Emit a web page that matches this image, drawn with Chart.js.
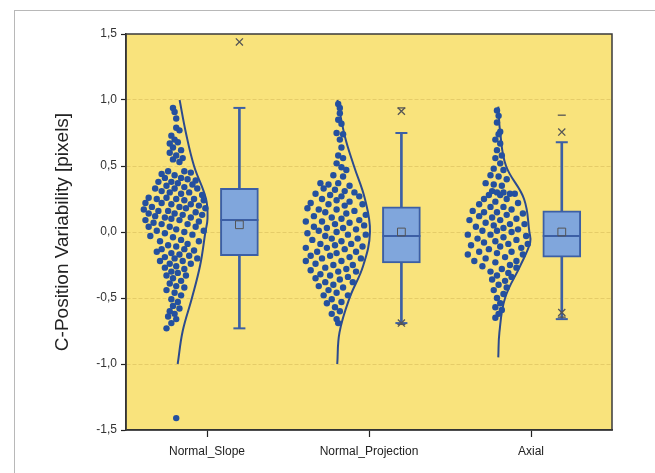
<!DOCTYPE html>
<html lang="en">
<head>
    <meta charset="UTF-8">
    <title>C-Position Variability</title>
    <script src="https://cdn.jsdelivr.net/npm/chart.js"></script>
    <style>
        body {
            margin: 0;
            background: #fff;
        }
        #wrap {
            position: relative;
            width: 655px;
            height: 473px;
        }
        #frame {
            position: absolute;
            left: 14px;
            top: 10px;
            width: 700px;
            height: 500px;
            border: 1px solid #b8b8b8;
            pointer-events: none;
        }
    </style>
</head>
<body>
<div id="wrap">
    <canvas id="chart" width="655" height="473"></canvas>
    <div id="frame"></div>
</div>

<script>
    const categories = ['Normal_Slope', 'Normal_Projection', 'Axial'];
    const catPos = [0.5, 1.5, 2.5];
    const boxPos = [0.70, 1.70, 2.69];

    const whiskerHi = [0.94, 0.75, 0.68];
    const q3 = [0.33, 0.19, 0.16];
    const median = [0.09, -0.03, -0.03];
    const q1 = [-0.18, -0.235, -0.19];
    const whiskerLo = [-0.73, -0.69, -0.66];
    const means = [0.055, 0.0, 0.0];
    const maxMarks = [1.44, 0.915, 0.757];
    const minMarks = [null, -0.69, -0.61];
    const pctHi = [null, 0.94, 0.885];
    const pctLo = [null, -0.70, -0.645];

    // jittered raw points [x, y]
    const slopePts = [
        [0.29,0.94],[0.30,0.91],[0.31,0.86],[0.31,0.79],[0.33,0.77],[0.28,0.73],[0.30,0.70],[0.27,0.67],[0.32,0.68],[0.29,0.64],
        [0.34,0.62],[0.27,0.60],[0.31,0.58],[0.35,0.56],[0.29,0.55],[0.33,0.53],
        [0.22,0.44],[0.26,0.46],[0.36,0.46],[0.40,0.45],[0.30,0.43],[0.24,0.41],[0.34,0.41],[0.38,0.40],[0.43,0.39],[0.20,0.38],
        [0.28,0.38],[0.32,0.37],[0.41,0.36],[0.25,0.35],[0.36,0.34],[0.18,0.33],[0.30,0.33],[0.44,0.33],[0.22,0.31],[0.27,0.30],
        [0.39,0.30],[0.34,0.29],[0.47,0.28],
        [0.14,0.26],[0.19,0.25],[0.25,0.26],[0.31,0.25],[0.36,0.24],[0.42,0.25],[0.48,0.24],[0.12,0.22],[0.22,0.22],[0.28,0.21],
        [0.40,0.21],[0.45,0.20],[0.16,0.19],[0.33,0.19],[0.37,0.18],[0.49,0.18],[0.11,0.17],[0.20,0.16],[0.26,0.16],[0.43,0.15],
        [0.14,0.14],[0.30,0.14],[0.35,0.13],[0.47,0.13],[0.18,0.12],[0.24,0.11],[0.40,0.11],[0.28,0.10],[0.12,0.09],[0.33,0.09],
        [0.45,0.08],
        [0.17,0.07],[0.22,0.06],[0.38,0.06],[0.14,0.04],[0.27,0.04],[0.43,0.04],[0.31,0.02],[0.19,0.01],[0.36,0.00],[0.48,0.01],
        [0.24,-0.01],[0.41,-0.02],[0.15,-0.03],[0.29,-0.04],[0.34,-0.06],[0.21,-0.07],[0.45,-0.07],[0.38,-0.09],
        [0.26,-0.10],[0.31,-0.11],[0.22,-0.13],[0.36,-0.13],[0.42,-0.14],[0.19,-0.15],[0.28,-0.16],[0.33,-0.17],[0.39,-0.18],
        [0.24,-0.19],[0.30,-0.20],[0.44,-0.20],[0.21,-0.22],[0.35,-0.22],[0.27,-0.24],[0.40,-0.24],[0.31,-0.26],[0.24,-0.27],
        [0.36,-0.28],
        [0.28,-0.30],[0.32,-0.31],[0.25,-0.33],[0.37,-0.33],[0.29,-0.35],[0.34,-0.37],[0.27,-0.39],[0.31,-0.41],[0.36,-0.42],
        [0.25,-0.44],[0.30,-0.46],[0.34,-0.48],
        [0.28,-0.51],[0.32,-0.53],[0.29,-0.56],[0.33,-0.58],[0.27,-0.60],[0.30,-0.62],[0.26,-0.64],[0.31,-0.66],[0.28,-0.69],
        [0.25,-0.73],
        [0.31,-1.41]
    ];

    const projectionPts = [
        [1.31,0.97],[1.32,0.94],[1.32,0.90],[1.31,0.85],[1.33,0.82],[1.30,0.75],[1.34,0.74],[1.32,0.70],[1.33,0.64],[1.31,0.58],
        [1.34,0.56],[1.30,0.52],[1.33,0.49],[1.36,0.47],[1.28,0.43],[1.34,0.42],
        [1.20,0.37],[1.25,0.36],[1.31,0.37],[1.38,0.35],[1.22,0.33],[1.29,0.32],[1.35,0.31],[1.41,0.30],[1.17,0.29],[1.26,0.28],
        [1.33,0.27],[1.44,0.27],[1.21,0.25],[1.30,0.24],[1.38,0.23],[1.14,0.22],[1.25,0.21],[1.35,0.20],[1.46,0.21],
        [1.12,0.18],[1.19,0.17],[1.30,0.17],[1.41,0.16],[1.23,0.15],[1.36,0.14],[1.48,0.13],[1.16,0.12],[1.27,0.11],[1.33,0.10],
        [1.44,0.09],[1.11,0.08],[1.21,0.08],[1.38,0.07],[1.29,0.06],[1.47,0.05],[1.16,0.04],[1.24,0.03],[1.34,0.03],[1.42,0.02],
        [1.19,0.01],[1.30,0.00],
        [1.12,-0.01],[1.37,-0.02],[1.48,-0.02],[1.23,-0.03],[1.27,-0.05],[1.43,-0.05],[1.15,-0.06],[1.33,-0.07],[1.20,-0.09],
        [1.39,-0.09],[1.29,-0.10],[1.46,-0.11],[1.11,-0.12],[1.24,-0.12],[1.35,-0.13],[1.18,-0.15],[1.42,-0.15],[1.30,-0.16],
        [1.14,-0.18],[1.26,-0.18],[1.38,-0.19],[1.21,-0.20],[1.45,-0.20],
        [1.11,-0.22],[1.33,-0.22],[1.17,-0.24],[1.28,-0.25],[1.40,-0.25],[1.23,-0.27],[1.36,-0.28],[1.14,-0.29],[1.31,-0.30],
        [1.42,-0.30],[1.20,-0.32],[1.26,-0.33],[1.37,-0.34],[1.17,-0.35],[1.32,-0.36],[1.23,-0.38],[1.40,-0.38],[1.28,-0.40],
        [1.19,-0.41],[1.34,-0.42],
        [1.25,-0.44],[1.30,-0.46],[1.22,-0.48],[1.37,-0.48],[1.27,-0.51],[1.33,-0.53],[1.24,-0.54],[1.29,-0.57],[1.32,-0.60],
        [1.27,-0.62],[1.30,-0.66],[1.31,-0.69]
    ];

    const axialPts = [
        [2.29,0.92],[2.30,0.88],[2.29,0.83],[2.31,0.76],[2.30,0.74],[2.28,0.70],[2.31,0.67],[2.29,0.62],[2.32,0.58],[2.28,0.56],
        [2.31,0.52],[2.27,0.48],[2.33,0.47],[2.25,0.43],[2.30,0.42],[2.35,0.40],
        [2.22,0.37],[2.27,0.36],[2.32,0.35],[2.26,0.31],[2.29,0.30],[2.33,0.30],[2.37,0.29],[2.40,0.29],[2.24,0.28],[2.31,0.28],
        [2.21,0.25],[2.35,0.25],[2.28,0.23],[2.42,0.22],[2.18,0.21],
        [2.25,0.19],[2.33,0.19],[2.38,0.17],[2.14,0.16],[2.21,0.15],[2.29,0.15],[2.45,0.14],[2.35,0.13],[2.18,0.12],[2.26,0.11],
        [2.41,0.10],[2.12,0.09],[2.31,0.09],[2.22,0.07],[2.37,0.06],[2.46,0.06],[2.27,0.05],[2.16,0.04],[2.33,0.03],[2.42,0.02],
        [2.20,0.01],[2.29,0.01],[2.38,0.00],
        [2.11,-0.02],[2.25,-0.02],[2.47,-0.03],[2.33,-0.04],[2.17,-0.05],[2.41,-0.06],[2.28,-0.07],[2.21,-0.08],[2.36,-0.09],
        [2.48,-0.09],[2.13,-0.10],[2.31,-0.11],[2.44,-0.12],[2.24,-0.13],[2.18,-0.15],[2.38,-0.15],[2.29,-0.16],[2.11,-0.17],
        [2.45,-0.17],[2.34,-0.19],[2.22,-0.20],
        [2.15,-0.22],[2.41,-0.22],[2.28,-0.23],[2.37,-0.25],[2.20,-0.26],[2.32,-0.28],[2.41,-0.27],[2.25,-0.30],[2.36,-0.31],
        [2.29,-0.33],[2.38,-0.34],[2.26,-0.36],[2.34,-0.37],[2.30,-0.40],
        [2.35,-0.42],[2.27,-0.44],[2.33,-0.47],[2.29,-0.50],[2.31,-0.54],[2.28,-0.57],[2.32,-0.59],[2.30,-0.62],[2.28,-0.65]
    ];

    // distribution curves [x, y]
    const slopeCurve = [[0.331,1.0],[0.37,0.75],[0.42,0.5],[0.494,0.25],[0.503,0.1],[0.49,0.0],[0.458,-0.25],[0.407,-0.5],[0.35,-0.75],[0.319,-1.0]];
    const projectionCurve = [[1.305,1.0],[1.352,0.72],[1.407,0.5],[1.475,0.25],[1.506,0.0],[1.463,-0.26],[1.38,-0.5],[1.318,-0.76],[1.304,-1.0]];
    const axialCurve = [[2.298,0.95],[2.31,0.75],[2.346,0.5],[2.457,0.25],[2.49,0.0],[2.495,-0.08],[2.432,-0.26],[2.34,-0.5],[2.305,-0.76],[2.298,-0.95]];

    const dotColor = '#24509f';
    const lineColor = '#2c4a8e';
    const boxEdge = '#3c5fa5';
    const markColor = '#555555';

    const toXY = arr => arr.map(p => ({ x: p[0], y: p[1] }));
    const atBoxes = vals => boxPos.map((x, i) => ({ x: x, y: vals[i] })).filter(p => p.y !== null);

    const plotBackground = {
        id: 'plotBackground',
        beforeDraw(chart) {
            const { ctx, chartArea } = chart;
            ctx.save();
            ctx.fillStyle = '#f9e37c';
            ctx.fillRect(chartArea.left, chartArea.top, chartArea.right - chartArea.left, chartArea.bottom - chartArea.top);
            ctx.restore();
        },
        afterDraw(chart) {
            const { ctx, chartArea } = chart;
            ctx.save();
            ctx.strokeStyle = '#3a3a3a';
            ctx.lineWidth = 1.5;
            ctx.strokeRect(chartArea.left, chartArea.top, chartArea.right - chartArea.left, chartArea.bottom - chartArea.top);
            ctx.restore();
        }
    };

    function curveSet(data) {
        return {
            type: 'scatter',
            data: toXY(data),
            showLine: true,
            tension: 0.4,
            borderColor: lineColor,
            borderWidth: 2,
            pointRadius: 0,
            order: 3
        };
    }

    function dotSet(data) {
        return {
            type: 'scatter',
            data: toXY(data),
            backgroundColor: dotColor,
            borderWidth: 0,
            pointRadius: 3.2,
            order: 2
        };
    }

    new Chart(document.getElementById('chart'), {
        type: 'scatter',
        data: {
            datasets: [
                {
                    type: 'bar',
                    data: boxPos.map((x, i) => ({ x: x, y: [whiskerLo[i], whiskerHi[i]] })),
                    backgroundColor: boxEdge,
                    borderWidth: 0,
                    barThickness: 2,
                    grouped: false,
                    order: 10
                },
                {
                    type: 'bar',
                    data: boxPos.map((x, i) => ({ x: x, y: [q1[i], q3[i]] })),
                    backgroundColor: '#80a6dc',
                    borderColor: boxEdge,
                    borderWidth: 2,
                    borderSkipped: false,
                    barThickness: 38,
                    grouped: false,
                    order: 9
                },
                {
                    data: atBoxes(median),
                    pointStyle: 'line',
                    pointRadius: 19,
                    borderColor: boxEdge,
                    borderWidth: 2,
                    order: 5
                },
                {
                    data: atBoxes(whiskerHi).concat(atBoxes(whiskerLo)),
                    pointStyle: 'line',
                    pointRadius: 6,
                    borderColor: boxEdge,
                    borderWidth: 2,
                    order: 5
                },
                {
                    data: atBoxes(means),
                    pointStyle: 'rect',
                    pointRadius: 5.5,
                    backgroundColor: 'rgba(0,0,0,0)',
                    borderColor: markColor,
                    borderWidth: 1,
                    order: 4
                },
                {
                    data: atBoxes(maxMarks).concat(atBoxes(minMarks)),
                    pointStyle: 'crossRot',
                    pointRadius: 5,
                    borderColor: markColor,
                    borderWidth: 1.3,
                    order: 4
                },
                {
                    data: atBoxes(pctHi).concat(atBoxes(pctLo)),
                    pointStyle: 'line',
                    pointRadius: 4,
                    borderColor: markColor,
                    borderWidth: 1.3,
                    order: 4
                },
                curveSet(slopeCurve),
                curveSet(projectionCurve),
                curveSet(axialCurve),
                dotSet(slopePts),
                dotSet(projectionPts),
                dotSet(axialPts)
            ]
        },
        options: {
            responsive: false,
            animation: false,
            layout: {
                padding: { left: 47, top: 34, right: 43, bottom: 0 }
            },
            plugins: {
                legend: { display: false },
                tooltip: { enabled: false }
            },
            scales: {
                x: {
                    type: 'linear',
                    min: 0,
                    max: 3,
                    offset: false,
                    afterBuildTicks: scale => {
                        scale.ticks = catPos.map(v => ({ value: v }));
                    },
                    afterFit: scale => {
                        scale.height = 43;
                    },
                    ticks: {
                        autoSkip: false,
                        maxRotation: 0,
                        padding: 7,
                        color: '#222',
                        font: { family: 'Liberation Sans', size: 12 },
                        callback: (value) => categories[catPos.indexOf(value)]
                    },
                    grid: {
                        offset: false,
                        drawOnChartArea: false,
                        tickLength: 7,
                        tickColor: '#222',
                        tickWidth: 1.2
                    },
                    border: { color: '#222', width: 1.5 }
                },
                y: {
                    min: -1.5,
                    max: 1.5,
                    afterFit: scale => {
                        scale.width = 79;
                    },
                    ticks: {
                        stepSize: 0.5,
                        padding: 4,
                        color: '#333',
                        font: { family: 'Liberation Sans', size: 12 },
                        callback: v => v.toFixed(1).replace('.', ',')
                    },
                    grid: {
                        color: ctx => (ctx.tick && Math.abs(ctx.tick.value) === 1.5) ? 'rgba(0,0,0,0)' : 'rgba(205,175,80,0.45)',
                        lineWidth: 1,
                        tickLength: 5,
                        tickColor: '#222',
                        tickWidth: 1.2
                    },
                    border: { color: '#222', width: 1.5, dash: [4, 2] },
                    title: {
                        display: true,
                        text: 'C-Position Variability [pixels]',
                        color: '#222',
                        font: { family: 'Liberation Sans', size: 19 }
                    }
                }
            }
        },
        plugins: [plotBackground]
    });
</script>
</body>
</html>
